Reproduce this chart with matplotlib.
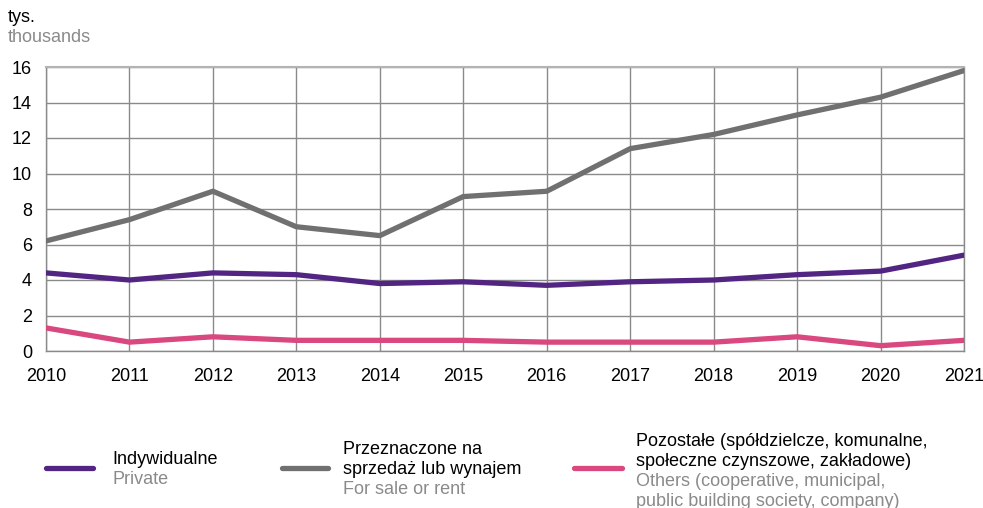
import matplotlib
matplotlib.use("Agg")
import matplotlib.pyplot as plt
from matplotlib.lines import Line2D

plt.rcParams['font.family'] = ['Liberation Sans', 'DejaVu Sans']

years = [2010, 2011, 2012, 2013, 2014, 2015, 2016, 2017, 2018, 2019, 2020, 2021]
private = [4.4, 4.0, 4.4, 4.3, 3.8, 3.9, 3.7, 3.9, 4.0, 4.3, 4.5, 5.4]
for_sale = [6.2, 7.4, 9.0, 7.0, 6.5, 8.7, 9.0, 11.4, 12.2, 13.3, 14.3, 15.8]
others = [1.3, 0.5, 0.8, 0.6, 0.6, 0.6, 0.5, 0.5, 0.5, 0.8, 0.3, 0.6]
yticks = [0, 2, 4, 6, 8, 10, 12, 14, 16]

c_priv = '#522583'
c_sale = '#707070'
c_oth = '#D9487F'

W, H = 983, 508
fig = plt.figure(figsize=(W / 100, H / 100), dpi=100)
ax = fig.add_axes([46 / W, 1 - 351 / H, (964 - 46) / W, (351 - 67) / H])

lw = 3.8
ax.plot(years, private, color=c_priv, lw=lw, solid_capstyle='round', zorder=3)
ax.plot(years, for_sale, color=c_sale, lw=lw, solid_capstyle='round', zorder=3)
ax.plot(years, others, color=c_oth, lw=lw, solid_capstyle='round', zorder=3)

ax.set_xlim(2010, 2021)
ax.set_ylim(0, 16)
ax.set_xticks(years)
ax.set_yticks(yticks)
ax.grid(True, color='#8a8a8a', lw=1.0)
ax.set_axisbelow(True)
for s in ['left', 'right', 'bottom']:
    ax.spines[s].set_color('#8a8a8a')
    ax.spines[s].set_linewidth(1.0)
ax.spines['top'].set_color('#b3b3b3')
ax.spines['top'].set_linewidth(1.5)
ax.tick_params(length=0, labelsize=13, colors='black')
ax.tick_params(axis='y', pad=10)
ax.tick_params(axis='x', pad=12)

fs = 13
fig.text(8 / W, 1 - 18 / H, 'tys.', fontsize=fs, color='black', va='center')
fig.text(8 / W, 1 - 38 / H, 'thousands', fontsize=fs, color='#8a8a8a', va='center')

def leg_line(x0, x1, y, color):
    fig.add_artist(Line2D([x0 / W, x1 / W], [1 - y / H, 1 - y / H], color=color,
                          lw=lw, solid_capstyle='round', transform=fig.transFigure))

def leg_text(x, y, s, color='black'):
    fig.text(x / W, 1 - y / H, s, fontsize=fs, color=color, va='center')

leg_line(46, 93, 468, c_priv)
leg_text(112, 460, 'Indywidualne')
leg_text(112, 480, 'Private', '#8a8a8a')

leg_line(282, 328, 468, c_sale)
leg_text(343, 450, 'Przeznaczone na')
leg_text(343, 469, 'sprzedaż lub wynajem')
leg_text(343, 489, 'For sale or rent', '#8a8a8a')

leg_line(574, 622, 468, c_oth)
leg_text(636, 442, 'Pozostałe (spółdzielcze, komunalne,')
leg_text(636, 462, 'społeczne czynszowe, zakładowe)')
leg_text(636, 482, 'Others (cooperative, municipal,', '#8a8a8a')
leg_text(636, 501, 'public building society, company)', '#8a8a8a')

fig.savefig('out.png', dpi=100)
